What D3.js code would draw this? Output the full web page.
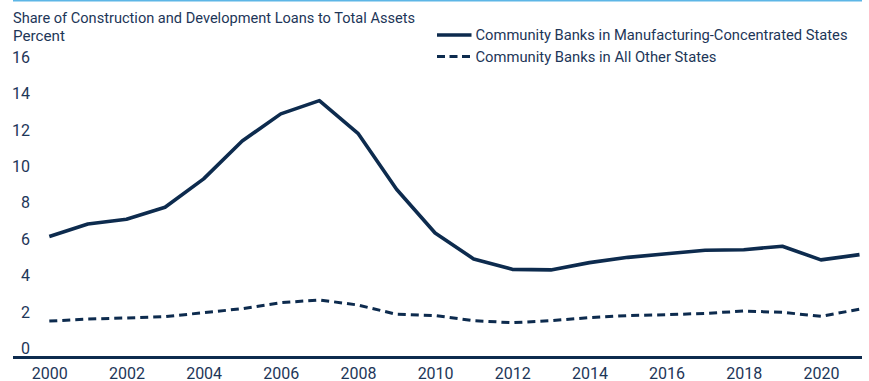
<!DOCTYPE html>
<html>
<head>
<meta charset="utf-8">
<script src="https://cdn.jsdelivr.net/npm/d3@7"></script>
<style>
  html, body { margin: 0; padding: 0; background: #fff; }
  svg { display: block; font-family: Roboto, "Open Sans", sans-serif; }
</style>
</head>
<body>
<svg id="chart" width="869" height="381"></svg>
<script>
// Years covered by the annual series
const years = d3.range(2000, 2022);

// Construction & development loans as a share of total assets (percent)
const manufacturingStates = [
  6.12, 6.81, 7.07, 7.73, 9.29, 11.37, 12.86, 13.59, 11.79, 8.72, 6.32,
  4.89, 4.32, 4.29, 4.69, 4.98, 5.18, 5.37, 5.40, 5.59, 4.84, 5.13
];
const otherStates = [
  1.48, 1.59, 1.65, 1.72, 1.94, 2.16, 2.49, 2.64, 2.36, 1.85, 1.78,
  1.50, 1.39, 1.50, 1.67, 1.78, 1.83, 1.90, 2.03, 1.96, 1.74, 2.13
];

const yTicks = [0, 2, 4, 6, 8, 10, 12, 14, 16];
const xTicks = d3.range(2000, 2021, 2);

const seriesNames = [
  "Community Banks in Manufacturing-Concentrated States",
  "Community Banks in All Other States"
];
const titleText = "Share of Construction and Development Loans to Total Assets";
const unitText = "Percent";

const navy = "#0d2b4e";
const textColor = "#1d3658";

const svg = d3.select("#chart");

const x = d3.scaleLinear().domain([2000, 2021]).range([49.3, 859.5]);
const y = d3.scaleLinear().domain([0, 16]).range([348, 56.7]);

// thin accent rule along the top
svg.append("line")
  .attr("x1", 13).attr("x2", 862).attr("y1", 0.5).attr("y2", 0.5)
  .attr("stroke", "#5db6e6").attr("stroke-width", 2);

// titles
svg.append("text")
  .attr("x", 13).attr("y", 23)
  .attr("fill", textColor).attr("font-size", 15)
  .attr("textLength", 402).attr("lengthAdjust", "spacingAndGlyphs")
  .text(titleText);
svg.append("text")
  .attr("x", 13).attr("y", 41)
  .attr("fill", textColor).attr("font-size", 15)
  .attr("textLength", 52).attr("lengthAdjust", "spacingAndGlyphs")
  .text(unitText);

// y axis labels (no tick marks, no grid)
const yAxis = d3.axisLeft(y).tickValues(yTicks).tickSize(0).tickPadding(0);
const gy = svg.append("g").attr("transform", "translate(30,0)").call(yAxis);
gy.select(".domain").remove();
gy.selectAll("text")
  .attr("fill", textColor).attr("font-size", 16)
  .attr("font-family", "Roboto, sans-serif")
  .attr("dy", "0.35em");

// x axis: baseline rule plus year labels
const xAxis = d3.axisBottom(x).tickValues(xTicks).tickFormat(d3.format("d")).tickSize(0).tickPadding(0);
const gx = svg.append("g").attr("transform", "translate(0,357.5)").call(xAxis);
gx.select(".domain").remove();
gx.selectAll("text")
  .attr("fill", textColor).attr("font-size", 16)
  .attr("font-family", "Roboto, sans-serif")
  .attr("y", 21).attr("dy", 0);
svg.append("line")
  .attr("x1", 13).attr("x2", 862).attr("y1", 357.5).attr("y2", 357.5)
  .attr("stroke", navy).attr("stroke-width", 3);

// series lines
const line = d3.line()
  .x((d, i) => x(years[i]))
  .y(d => y(d));

svg.append("path")
  .datum(otherStates)
  .attr("d", line)
  .attr("fill", "none")
  .attr("stroke", navy).attr("stroke-width", 3)
  .attr("stroke-dasharray", "8,5");

svg.append("path")
  .datum(manufacturingStates)
  .attr("d", line)
  .attr("fill", "none")
  .attr("stroke", navy).attr("stroke-width", 3.6)
  .attr("stroke-linejoin", "round");

// legend
const legend = svg.append("g");
const legendRows = [
  { name: seriesNames[0], y: 35, dash: null, w: 3.6, len: 372 },
  { name: seriesNames[1], y: 56.5, dash: "8,4.5", w: 3, len: 241 }
];
legendRows.forEach(r => {
  legend.append("line")
    .attr("x1", 437).attr("x2", 471.5).attr("y1", r.y).attr("y2", r.y)
    .attr("stroke", navy).attr("stroke-width", r.w)
    .attr("stroke-dasharray", r.dash);
  legend.append("text")
    .attr("x", 475.5).attr("y", r.y).attr("dy", "0.35em")
    .attr("fill", textColor).attr("font-size", 15)
    .attr("textLength", r.len).attr("lengthAdjust", "spacingAndGlyphs")
    .text(r.name);
});
</script>
</body>
</html>
